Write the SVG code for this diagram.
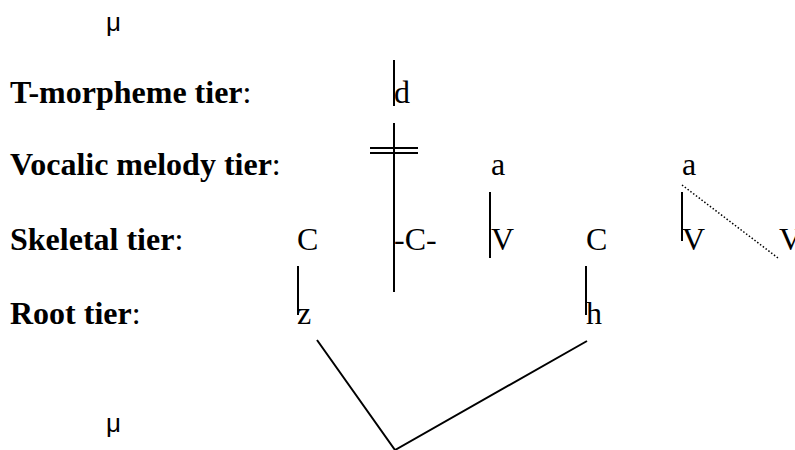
<svg xmlns="http://www.w3.org/2000/svg" width="795" height="450" viewBox="0 0 795 450">
<style>
.t{font-family:"Liberation Serif","Times New Roman",serif;font-size:32px;fill:#000}
.b{font-weight:bold}
.mu{font-family:"Liberation Sans",Arial,sans-serif;font-size:26px;fill:#000}
.l{stroke:#000;stroke-width:2;fill:none}
.d{stroke:#000;stroke-width:1.5;stroke-dasharray:1.5 2;fill:none}
</style>
<rect width="795" height="450" fill="#fff"/>
<g id="labels">
<text class="mu" x="106" y="31">μ</text>
<text class="t" x="10" y="103"><tspan class="b">T-morpheme tier</tspan>:</text>
<text class="t" x="10" y="175"><tspan class="b">Vocalic melody tier</tspan>:</text>
<text class="t" x="10" y="250"><tspan class="b">Skeletal tier</tspan>:</text>
<text class="t" x="10" y="324"><tspan class="b">Root tier</tspan>:</text>
<text class="mu" x="106" y="432">μ</text>
</g>
<g id="n-d"><text class="t" x="394" y="103">d</text></g>
<g id="n-a1"><text class="t" x="491" y="175">a</text></g>
<g id="n-a2"><text class="t" x="682" y="175">a</text></g>
<g id="n-C1"><text class="t" x="297" y="250">C</text></g>
<g id="n-C2"><text class="t" x="394" y="250">-C-</text></g>
<g id="n-V1"><text class="t" x="491" y="250">V</text></g>
<g id="n-C3"><text class="t" x="586" y="250">C</text></g>
<g id="n-V2"><text class="t" x="682" y="250">V</text></g>
<g id="n-V3"><text class="t" x="779" y="250">V</text></g>
<g id="n-z"><text class="t" x="297" y="324">z</text></g>
<g id="n-h"><text class="t" x="586" y="324">h</text></g>
<g id="connectors">
<line class="l" x1="394" y1="60" x2="394" y2="106"/>
<line class="l" x1="394" y1="123" x2="394" y2="292"/>
<line class="l" x1="370" y1="148" x2="418" y2="148"/>
<line class="l" x1="370" y1="153" x2="418" y2="153"/>
<line class="l" x1="490" y1="192" x2="490" y2="258"/>
<line class="l" x1="682" y1="192" x2="682" y2="241"/>
<line class="d" x1="682" y1="185" x2="778" y2="258"/>
<line class="l" x1="298" y1="266" x2="298" y2="315"/>
<line class="l" x1="586" y1="266" x2="586" y2="315"/>
<polyline class="l" points="317,340 395,450 587,341"/>
</g>
</svg>
